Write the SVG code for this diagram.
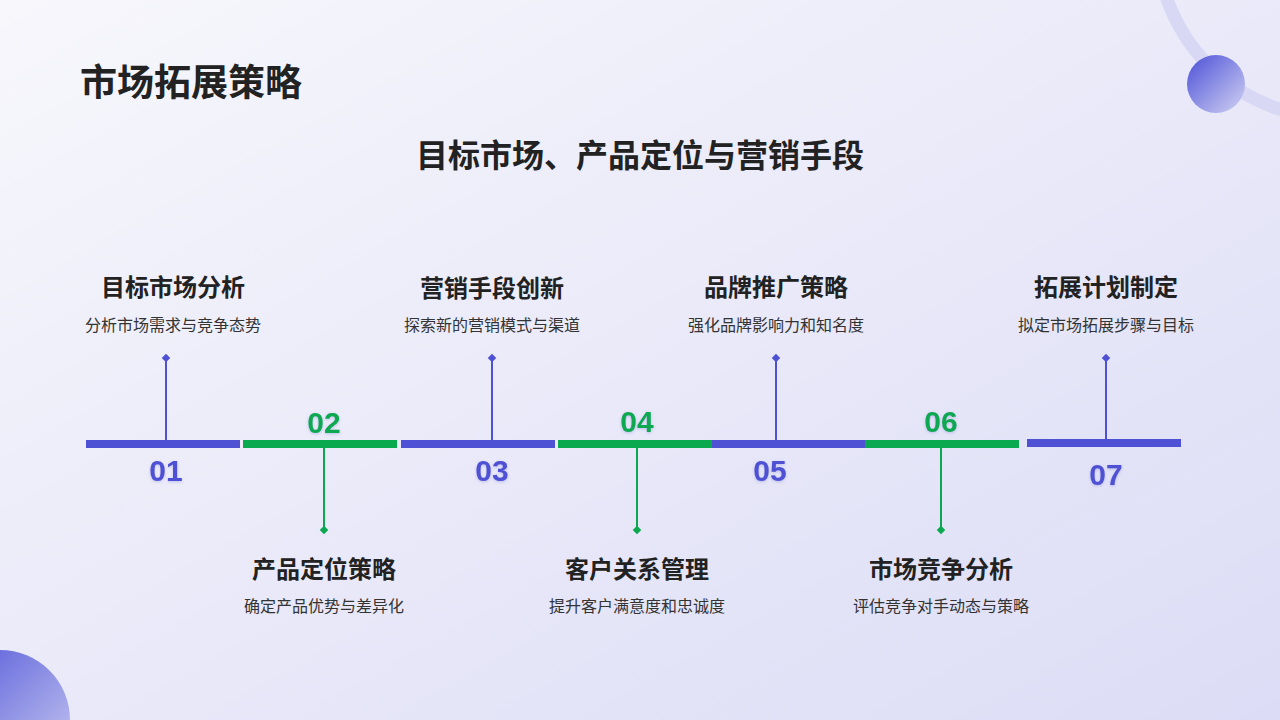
<svg xmlns="http://www.w3.org/2000/svg" width="1280" height="720" viewBox="0 0 1280 720">
<defs>
<linearGradient id="bg" x1="0" y1="0" x2="1" y2="1"><stop offset="0" stop-color="#f7f7fc"/><stop offset="1" stop-color="#dcdcf6"/></linearGradient>
<linearGradient id="ball" x1="0" y1="0" x2="1" y2="1"><stop offset="0" stop-color="#4b50d6"/><stop offset="1" stop-color="#d2d2f3"/></linearGradient>
<filter id="sh"><feDropShadow dx="0" dy="1" stdDeviation="1.5" flood-color="#5555cc" flood-opacity="0.3"/></filter>
<style>
text{font-family:"Noto Sans CJK SC","Liberation Sans",sans-serif;text-anchor:middle}
.t{font-size:24px;font-weight:bold;fill:#222}
.d{font-size:16px;fill:#333}
.n{font-family:"Liberation Sans",sans-serif;font-size:30px;font-weight:bold;filter:url(#sh)}
.b{fill:#4f51d4}.g{fill:#0aa84f}
.lb{stroke:#4f51d4;stroke-width:2}.lg{stroke:#0aa84f;stroke-width:2}
</style>
</defs>
<rect width="1280" height="720" fill="url(#bg)"/>
<circle cx="1335" cy="-60" r="178" fill="none" stroke="#d8d8f5" stroke-width="13"/>
<circle cx="1216" cy="84" r="29" fill="url(#ball)"/>
<circle cx="0" cy="720" r="70" fill="url(#ball)"/>
<text x="80" y="96" style="text-anchor:start;font-size:37px;font-weight:bold;fill:#222">市场拓展策略</text>
<text x="640" y="167" style="font-size:32px;font-weight:bold;fill:#222">目标市场、产品定位与营销手段</text>
<g id="connectors">
<rect class="b" x="86" y="440" width="154" height="8"/>
<rect class="g" x="243" y="440" width="154" height="8"/>
<rect class="b" x="401" y="440" width="154" height="8"/>
<rect class="g" x="558" y="440" width="154" height="8"/>
<rect class="b" x="712" y="440" width="153" height="8"/>
<rect class="g" x="865" y="440" width="154" height="8"/>
<rect class="b" x="1027" y="439" width="154" height="8"/>
<line class="lb" x1="166" y1="358" x2="166" y2="441"/><rect class="b" x="163" y="355" width="6" height="6" transform="rotate(45 166 358)"/>
<line class="lg" x1="324" y1="447" x2="324" y2="530"/><rect class="g" x="321" y="527" width="6" height="6" transform="rotate(45 324 530)"/>
<line class="lb" x1="492" y1="358" x2="492" y2="441"/><rect class="b" x="489" y="355" width="6" height="6" transform="rotate(45 492 358)"/>
<line class="lg" x1="637" y1="447" x2="637" y2="530"/><rect class="g" x="634" y="527" width="6" height="6" transform="rotate(45 637 530)"/>
<line class="lb" x1="776" y1="358" x2="776" y2="441"/><rect class="b" x="773" y="355" width="6" height="6" transform="rotate(45 776 358)"/>
<line class="lg" x1="941" y1="447" x2="941" y2="530"/><rect class="g" x="938" y="527" width="6" height="6" transform="rotate(45 941 530)"/>
<line class="lb" x1="1106" y1="358" x2="1106" y2="440"/><rect class="b" x="1103" y="355" width="6" height="6" transform="rotate(45 1106 358)"/>
</g>
<g id="n1"><text class="t" x="173" y="296">目标市场分析</text><text class="d" x="173" y="331">分析市场需求与竞争态势</text><text class="n b" x="166" y="481">01</text></g>
<g id="n2"><text class="t" x="324" y="578">产品定位策略</text><text class="d" x="324" y="612">确定产品优势与差异化</text><text class="n g" x="324" y="433">02</text></g>
<g id="n3"><text class="t" x="492" y="297">营销手段创新</text><text class="d" x="492" y="331">探索新的营销模式与渠道</text><text class="n b" x="492" y="481">03</text></g>
<g id="n4"><text class="t" x="637" y="578">客户关系管理</text><text class="d" x="637" y="612">提升客户满意度和忠诚度</text><text class="n g" x="637" y="432">04</text></g>
<g id="n5"><text class="t" x="776" y="296">品牌推广策略</text><text class="d" x="776" y="331">强化品牌影响力和知名度</text><text class="n b" x="770" y="481">05</text></g>
<g id="n6"><text class="t" x="941" y="578">市场竞争分析</text><text class="d" x="941" y="612">评估竞争对手动态与策略</text><text class="n g" x="941" y="432">06</text></g>
<g id="n7"><text class="t" x="1106" y="296">拓展计划制定</text><text class="d" x="1106" y="331">拟定市场拓展步骤与目标</text><text class="n b" x="1106" y="485">07</text></g>
</svg>
